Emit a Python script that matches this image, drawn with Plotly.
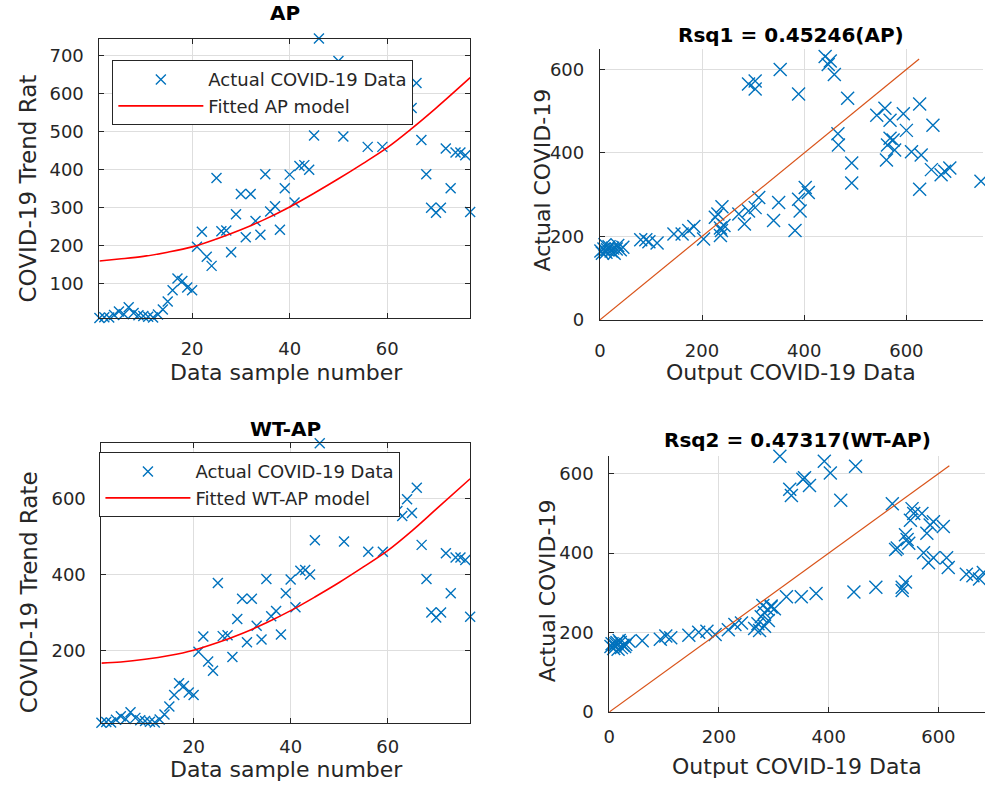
import plotly.graph_objects as go

# ---------------- data ----------------
sample_no = list(range(1, 78))
actual_data = [
    10, 12, 11, 18, 27, 20, 38, 23, 17, 15,
    13, 11, 19, 32, 53, 83, 114, 107, 90, 83,
    197, 237, 171, 147, 378, 238, 240, 183, 283, 336,
    222, 336, 265, 229, 388, 290, 304, 242, 351, 387,
    314, 410, 412, 400, 490, 745, 640, 610, 660, 686,
    487, 571, 620, 600, 630, 460, 600, 577, 460, 650,
    590, 567, 554, 598, 562, 628, 478, 388, 300, 287,
    300, 456, 351, 445, 445, 438, 289,
]

fit_n = [1, 5, 10, 15, 20, 25, 30, 35, 40, 45, 50, 55, 60, 65, 70, 77]
fit_ap = [160, 165, 172, 183, 197, 218, 242, 270, 302, 338, 376, 416, 458, 508, 562, 642]
fit_wtap = [167, 170, 177, 187, 201, 221, 245, 273, 305, 341, 379, 420, 463, 515, 572, 652]

# regression scatter (AP): output vs actual
ap_output = [2, 5, 8, 12, 15, 18, 22, 25, 28, 32, 35, 40, 45, 10,
             80, 90, 96, 112, 145, 161, 174, 184, 203, 226, 231, 239, 236, 243, 238, 236,
             272, 283, 291, 304, 311, 340, 350, 382, 389, 392, 402, 408,
             295, 291, 304, 304, 353, 389, 441, 451, 447, 459, 466, 467, 485, 493, 493,
             542, 558, 568, 563, 568, 561, 577, 574, 594, 600, 610, 626, 629, 626,
             652, 649, 668, 675, 685, 746]
ap_actual = [165, 160, 170, 162, 168, 175, 165, 172, 160, 170, 178, 168, 174, 180,
             192, 192, 187, 184, 206, 206, 214, 224, 194, 246, 254, 271, 220, 226, 214, 202,
             254, 230, 261, 269, 293, 238, 281, 214, 289, 261, 317, 305,
             649, 565, 572, 553, 600, 541, 631, 620, 612, 588, 446, 419, 531, 376, 328,
             490, 507, 478, 419, 435, 383, 407, 431, 494, 454, 403, 517, 395, 313,
             466, 360, 348, 356, 364, 332]

# regression scatter (WT-AP): output vs actual
wt_output = [3, 8, 12, 16, 20, 25, 30, 36, 10, 22, 5, 18, 28, 14,
             60, 93, 103, 112, 145, 163, 178, 193, 217, 229, 241,
             265, 271, 277, 283, 289, 295, 274, 283, 295, 301, 280, 290,
             323, 350, 377, 446, 486, 534, 540, 534,
             311, 329, 332, 353, 356, 365, 392, 403, 422, 449, 516, 525, 522,
             540, 543, 546, 552, 555, 549, 570, 585, 579, 591, 609, 573, 582, 591,
             615, 618, 651, 663, 675, 682]
wt_actual = [165, 160, 172, 158, 175, 168, 170, 178, 168, 162, 172, 180, 165, 175,
             179, 183, 191, 187, 193, 201, 203, 195, 207, 220, 224,
             210, 222, 240, 250, 258, 267, 205, 216, 264, 260, 268, 230,
             290, 290, 298, 302, 314, 314, 327, 306,
             644, 561, 545, 586, 590, 570, 631, 602, 533, 619, 524, 413, 409,
             446, 434, 425, 512, 500, 483, 500, 471, 450, 479, 467, 401, 376, 388,
             388, 364, 347, 343, 335, 351]

diag_ap = [0, 625]
diag_wt = [0, 620]

# ---------------- style ----------------
BLUE = "#0072BD"
ORANGE = "#D95319"
AX = "#262626"
GRID = "#dedede"
FONT = "DejaVu Sans"
H = 797.0
W = 985.0

fig = go.Figure()

def xmark(size):
    return dict(symbol="x-thin", size=size, color=BLUE, line=dict(width=1.4, color=BLUE))

# TL
fig.add_trace(go.Scatter(x=sample_no, y=actual_data, mode="markers", marker=xmark(10),
                         name="Actual COVID-19 Data", xaxis="x", yaxis="y", legend="legend",
                         cliponaxis=False))
fig.add_trace(go.Scatter(x=fit_n, y=fit_ap, mode="lines", line=dict(color="red", width=1.6, shape="spline"),
                         name="Fitted AP model", xaxis="x", yaxis="y", legend="legend"))
# TR
fig.add_trace(go.Scatter(x=ap_output, y=ap_actual, mode="markers", marker=xmark(13),
                         showlegend=False, xaxis="x2", yaxis="y2", cliponaxis=False))
fig.add_trace(go.Scatter(x=diag_ap, y=diag_ap, mode="lines", line=dict(color=ORANGE, width=1.2),
                         showlegend=False, xaxis="x2", yaxis="y2"))
# BL
fig.add_trace(go.Scatter(x=sample_no, y=actual_data, mode="markers", marker=xmark(10),
                         name="Actual COVID-19 Data", xaxis="x3", yaxis="y3", legend="legend2",
                         cliponaxis=False))
fig.add_trace(go.Scatter(x=fit_n, y=fit_wtap, mode="lines", line=dict(color="red", width=1.6, shape="spline"),
                         name="Fitted WT-AP model", xaxis="x3", yaxis="y3", legend="legend2"))
# BR
fig.add_trace(go.Scatter(x=wt_output, y=wt_actual, mode="markers", marker=xmark(13),
                         showlegend=False, xaxis="x4", yaxis="y4", cliponaxis=False))
fig.add_trace(go.Scatter(x=diag_wt, y=diag_wt, mode="lines", line=dict(color=ORANGE, width=1.2),
                         showlegend=False, xaxis="x4", yaxis="y4"))


def ax(domain, rng, tickvals, anchor, mirror, standoff):
    return dict(domain=domain, range=rng, tickvals=tickvals, anchor=anchor,
                showline=True, linecolor=AX, linewidth=1, mirror=mirror,
                ticks="inside", ticklen=5, tickcolor=AX, tickwidth=1,
                showgrid=True, gridcolor=GRID, gridwidth=1, zeroline=False,
                tickfont=dict(family=FONT, size=18, color=AX), ticklabelstandoff=standoff)

tl_x = [94 / W, 467 / W]; tl_y = [1 - 322 / H, 1 - 39 / H]
tr_x = [597.5 / W, 983 / W]; tr_y = [1 - 324 / H, 1 - 50 / H]
bl_x = [96 / W, 467 / W]; bl_y = [1 - 732 / H, 1 - 449 / H]
br_x = [607 / W, 1.0]; br_y = [1 - 721 / H, 1 - 462 / H]


def label(text, x, y, size=22, angle=0, bold=False):
    t = "<b>%s</b>" % text if bold else text
    return dict(text=t, x=x / W, y=1 - y / H, xref="paper", yref="paper", showarrow=False,
                xanchor="center", yanchor="middle", textangle=angle,
                font=dict(family=FONT, size=size, color="black" if bold else AX))

fig.update_layout(
    width=985, height=797, autosize=False,
    margin=dict(l=0, r=0, t=0, b=0),
    paper_bgcolor="white", plot_bgcolor="white",
    font=dict(family=FONT, color=AX),
    xaxis=ax(tl_x, [1, 77], [20, 40, 60], "y", "ticks", 14),
    yaxis=ax(tl_y, [10, 745], [100, 200, 300, 400, 500, 600, 700], "x", "ticks", 11),
    xaxis2=ax(tr_x, [0, 750], [0, 200, 400, 600], "y2", False, 14),
    yaxis2=ax(tr_y, [0, 648], [0, 200, 400, 600], "x2", False, 11),
    xaxis3=ax(bl_x, [1, 77], [20, 40, 60], "y3", "ticks", 8),
    yaxis3=ax(bl_y, [10, 745], [200, 400, 600], "x3", "ticks", 11),
    xaxis4=ax(br_x, [0, 685], [0, 200, 400, 600], "y4", False, 8),
    yaxis4=ax(br_y, [0, 644], [0, 200, 400, 600], "x4", False, 11),
    legend=dict(x=107 / W, y=1 - 61 / H, xanchor="left", yanchor="top",
                bgcolor="white", bordercolor=AX, borderwidth=1,
                font=dict(family=FONT, size=18, color=AX), itemwidth=85, tracegroupgap=0),
    legend2=dict(x=94 / W, y=1 - 458 / H, xanchor="left", yanchor="top",
                 bgcolor="white", bordercolor=AX, borderwidth=1,
                 font=dict(family=FONT, size=18, color=AX), itemwidth=85, tracegroupgap=0),
    annotations=[
        label("AP", 280.5, 13, 20, bold=True),
        label("Rsq1 = 0.45246(AP)", 790, 35, 20, bold=True),
        label("WT-AP", 281.5, 434, 20, bold=True),
        label("Rsq2 = 0.47317(WT-AP)", 796, 446, 20, bold=True),
        label("Data sample number", 282, 377),
        label("Output COVID-19 Data", 790, 377),
        label("Data sample number", 282, 779),
        label("Output COVID-19 Data", 796, 776),
        label("COVID-19 Trend Rat", 22, 191, 23, angle=-90),
        label("COVID-19 Trend Rate", 24, 600, 23, angle=-90),
        label("Actual COVID-19", 540, 182, 22, angle=-90),
        label("Actual COVID-19", 545, 598, 22, angle=-90),
    ],
)

fig.write_html("out.html")
